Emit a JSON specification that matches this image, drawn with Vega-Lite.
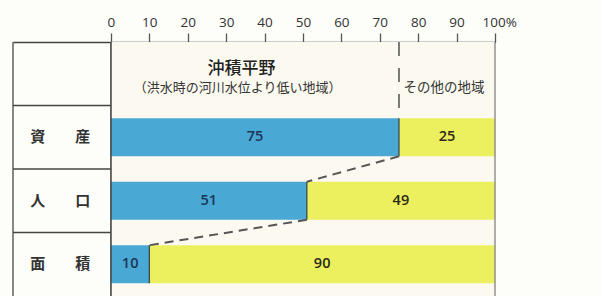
{
  "$schema": "https://vega.github.io/schema/vega-lite/v6.json",
  "width": 482,
  "height": 254,
  "autosize": "none",
  "padding": {"left": 13, "top": 42, "right": 107, "bottom": 0},
  "background": "#fdfdf9",
  "config": {"view": {"stroke": null}, "font": "Noto Sans CJK JP"},
  "datasets": {
    "bars": [
      {"item": "資産", "region": "沖積平野", "value": 75},
      {"item": "資産", "region": "その他の地域", "value": 25},
      {"item": "人口", "region": "沖積平野", "value": 51},
      {"item": "人口", "region": "その他の地域", "value": 49},
      {"item": "面積", "region": "沖積平野", "value": 10},
      {"item": "面積", "region": "その他の地域", "value": 90}
    ],
    "rows": [
      {"item": "資産", "label": "資　　産"},
      {"item": "人口", "label": "人　　口"},
      {"item": "面積", "label": "面　　積"}
    ],
    "links": [
      {"from": "資産", "to": "人口", "a": 75, "b": 51},
      {"from": "人口", "to": "面積", "a": 51, "b": 10}
    ],
    "one": [{"n": 1}]
  },
  "data": {"name": "bars"},
  "layer": [
    {
      "data": {"name": "one"},
      "mark": {"type": "rect", "color": "#fcfaf0"},
      "encoding": {
        "x": {"datum": 0, "type": "quantitative", "scale": {"domain": [-25.5, 100], "nice": false, "zero": false},
          "axis": {"orient": "top", "values": [0,10,20,30,40,50,60,70,80,90,100], "grid": false, "title": null,
            "labelExpr": "datum.value == 100 ? '100%' : datum.label", "labelFontSize": 13.5, "labelColor": "#333",
            "labelFont": "Open Sans", "labelFontWeight": 500,
            "labelAlign": {"expr": "datum.value == 100 ? 'left' : 'center'"},
            "labelOffset": {"expr": "datum.value == 100 ? -13 : 0"},
            "tickSize": 9, "tickColor": "#555", "tickWidth": 1.3, "labelPadding": 4,
            "domainColor": "#444", "domainWidth": 1.6}},
        "x2": {"datum": 100}
      }
    },
    {
      "transform": [{"stack": "value", "groupby": ["item"], "sort": [{"field": "region", "order": "descending"}], "as": ["v0", "v1"]}],
      "mark": {"type": "bar", "height": {"band": 0.6}},
      "encoding": {
        "y": {"field": "item", "type": "nominal", "scale": {"domain": ["見出し", "資産", "人口", "面積"], "paddingInner": 0, "paddingOuter": 0}, "axis": null},
        "x": {"field": "v0", "type": "quantitative"},
        "x2": {"field": "v1"},
        "color": {"field": "region", "type": "nominal", "scale": {"domain": ["沖積平野", "その他の地域"], "range": ["#4aa8d4", "#ecef5e"]}, "legend": null}
      }
    },
    {
      "transform": [
        {"stack": "value", "groupby": ["item"], "sort": [{"field": "region", "order": "descending"}], "as": ["v0", "v1"]},
        {"calculate": "(datum.v0 + datum.v1) / 2", "as": "mid"}
      ],
      "mark": {"type": "text", "fontSize": 14.5, "font": "Open Sans", "fontWeight": 600, "baseline": "middle", "align": "center"},
      "encoding": {
        "y": {"field": "item", "type": "nominal"},
        "x": {"field": "mid", "type": "quantitative"},
        "text": {"field": "value"},
        "color": {"condition": {"test": "datum.region == '沖積平野'", "value": "#1b3656"}, "value": "#2b2a12"}
      }
    },
    {
      "transform": [{"filter": "datum.region == '沖積平野'"}],
      "mark": {"type": "rule", "color": "#3a4a50", "strokeWidth": 1.3},
      "encoding": {
        "x": {"field": "value", "type": "quantitative"},
        "y": {"field": "item", "type": "nominal", "bandPosition": 0.2},
        "y2": {"field": "item", "bandPosition": 0.8}
      }
    },
    {
      "data": {"name": "links"},
      "mark": {"type": "rule", "color": "#555", "strokeWidth": 2, "strokeDash": [9, 6]},
      "encoding": {
        "x": {"field": "a", "type": "quantitative"},
        "x2": {"field": "b"},
        "y": {"field": "from", "type": "nominal", "bandPosition": 0.8},
        "y2": {"field": "to", "bandPosition": 0.2}
      }
    },
    {
      "data": {"name": "one"},
      "mark": {"type": "rule", "color": "#444", "strokeWidth": 1.4, "strokeDash": [14, 12]},
      "encoding": {
        "x": {"datum": 75, "type": "quantitative"},
        "y": {"datum": "見出し", "type": "nominal", "bandPosition": 0},
        "y2": {"datum": "資産", "bandPosition": 0.2}
      }
    },
    {
      "data": {"name": "one"},
      "mark": {"type": "rule", "color": "#555", "strokeWidth": 1.4},
      "encoding": {"x": {"datum": -25.5, "type": "quantitative"}}
    },
    {
      "data": {"name": "one"},
      "mark": {"type": "rule", "color": "#444", "strokeWidth": 1.6},
      "encoding": {"x": {"datum": 0, "type": "quantitative"}}
    },
    {
      "data": {"name": "one"},
      "mark": {"type": "rule", "color": "#777", "strokeWidth": 1.2},
      "encoding": {"x": {"datum": 100, "type": "quantitative"}}
    },
    {
      "data": {"name": "rows"},
      "mark": {"type": "rule", "color": "#444", "strokeWidth": 1.6},
      "encoding": {
        "y": {"field": "item", "type": "nominal", "bandPosition": 0},
        "x": {"datum": -25.5, "type": "quantitative"},
        "x2": {"datum": 0}
      }
    },
    {
      "data": {"name": "rows"},
      "mark": {"type": "text", "fontSize": 15, "fontWeight": "bold", "color": "#333", "align": "center", "baseline": "middle"},
      "encoding": {
        "y": {"field": "item", "type": "nominal"},
        "x": {"datum": -13.2, "type": "quantitative"},
        "text": {"field": "label"}
      }
    },
    {
      "data": {"name": "one"},
      "mark": {"type": "text", "text": "沖積平野", "fontSize": 17, "fontWeight": 500, "color": "#222", "align": "center", "baseline": "middle", "dy": -5},
      "encoding": {"x": {"datum": 34, "type": "quantitative"}, "y": {"datum": "見出し", "type": "nominal"}}
    },
    {
      "data": {"name": "one"},
      "mark": {"type": "text", "text": "（洪水時の河川水位より低い地域）", "fontSize": 13, "color": "#333", "align": "center", "baseline": "middle", "dy": 14},
      "encoding": {"x": {"datum": 33, "type": "quantitative"}, "y": {"datum": "見出し", "type": "nominal"}}
    },
    {
      "data": {"name": "one"},
      "mark": {"type": "text", "text": "その他の地域", "fontSize": 13.5, "color": "#333", "align": "left", "baseline": "middle", "dy": 14},
      "encoding": {"x": {"datum": 76.2, "type": "quantitative"}, "y": {"datum": "見出し", "type": "nominal"}}
    }
  ]
}
